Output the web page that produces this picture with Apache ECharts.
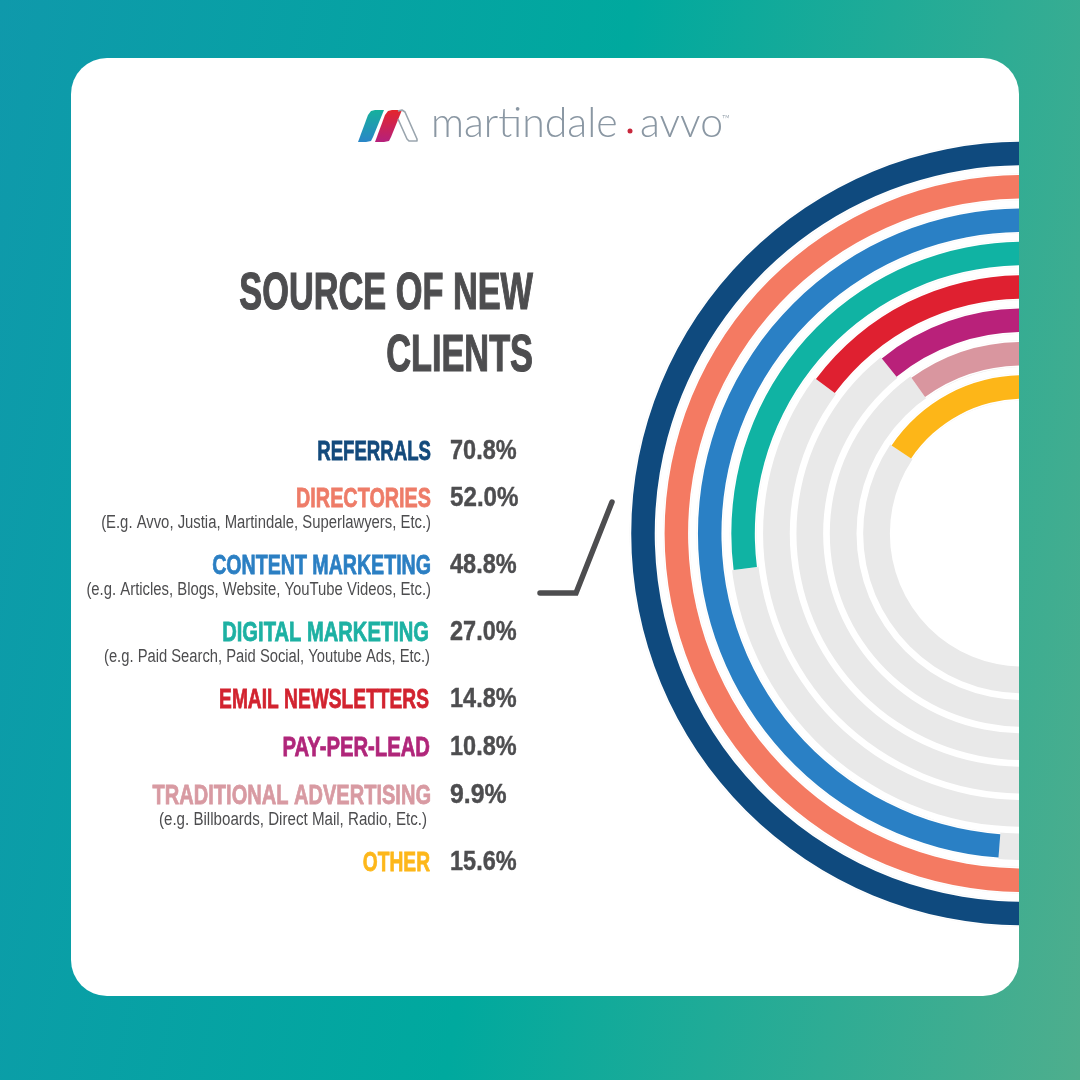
<!DOCTYPE html>
<html lang="en">
<head>
<meta charset="UTF-8">
<title>Source of new clients</title>
<script src="https://cdn.jsdelivr.net/npm/echarts@6/dist/echarts.min.js"></script>
<style>
  html, body { margin: 0; padding: 0; }
  body {
    width: 1080px; height: 1080px; overflow: hidden; position: relative;
    background: linear-gradient(100deg, #0f99ab 0%, #00a99e 50%, #4eae8d 100%);
  }
  #chart {
    position: absolute; left: 71px; top: 58px; width: 948px; height: 938px;
    border-radius: 36px; overflow: hidden; background: #fff;
  }
</style>
</head>
<body>
<div id="chart"></div>
<script>
var categories = ['REFERRALS', 'DIRECTORIES', 'CONTENT MARKETING', 'DIGITAL MARKETING', 'EMAIL NEWSLETTERS', 'PAY-PER-LEAD', 'TRADITIONAL ADVERTISING', 'OTHER'];
var notes = ['', '(E.g. Avvo, Justia, Martindale, Superlawyers, Etc.)', '(e.g. Articles, Blogs, Website, YouTube Videos, Etc.)', '(e.g. Paid Search, Paid Social, Youtube Ads, Etc.)', '', '', '(e.g. Billboards, Direct Mail, Radio, Etc.)', ''];
var values = [70.8, 52.0, 48.8, 27.0, 14.8, 10.8, 9.9, 15.6];
var titleLines = ['SOURCE OF NEW', 'CLIENTS'];

var barColors = ['#0f4a7e', '#f47a62', '#2a80c5', '#10b3a3', '#df2030', '#b9217a', '#d9969f', '#fdb618'];
var textColors = ['#134a7c', '#ee7c68', '#2b7fc3', '#1db1a3', '#d2232f', '#b0267a', '#d89aa2', '#fdb71a'];
var rowY = [450, 497, 564, 631, 698, 746, 794, 861];
var rowRight = [431, 431, 431, 429, 429, 430, 431, 430];
var noteRight = [0, 431, 431, 430, 0, 0, 427, 0];
var labelScale = [0.665, 0.707, 0.70, 0.72, 0.685, 0.724, 0.716, 0.685];
var noteScale = [0, 0.825, 0.826, 0.82, 0, 0, 0.84, 0];
var valueScale = [0.87, 0.895, 0.87, 0.87, 0.87, 0.87, 0.92, 0.87];

var DARK = '#4d4d4f';
var FONT = '"Liberation Sans", sans-serif';

// no condensed face is installed, so the Oswald look is faked with scaleX and a thin stroke
function text(x, y, str, size, color, align, weight, sx, bold) {
    return {
        type: 'text', x: x, y: y, scaleX: sx, silent: true,
        style: {
            text: str, x: 0, y: 0, fill: color, align: align, verticalAlign: 'middle',
            stroke: bold ? color : null, lineWidth: bold || 0,
            font: weight + ' ' + size + 'px ' + FONT
        }
    };
}

var items = [];
titleLines.forEach(function (line, i) {
    items.push(text(533, i === 0 ? 295 : 357, line, 52, DARK, 'right', 'bold', 0.66, 1.2));
});
categories.forEach(function (name, i) {
    items.push(text(rowRight[i], rowY[i] + 2, name, 28, textColors[i], 'right', 'bold', labelScale[i], 0.8));
    items.push(text(450, rowY[i] + 2, values[i].toFixed(1) + '%', 27, DARK, 'left', 'bold', valueScale[i], 0.4));
    if (notes[i]) {
        items.push(text(noteRight[i], rowY[i] + 26, notes[i], 18, DARK, 'right', 'normal', noteScale[i]));
    }
});

// callout line beside the table
items.push({
    type: 'polyline', silent: true,
    shape: { points: [[612, 502], [576, 593], [540, 593]] },
    style: { stroke: DARK, lineWidth: 5.5, lineCap: 'round', lineJoin: 'miter', fill: null }
});

// logo
items.push({
    type: 'polygon', silent: true,
    shape: { points: [[368, 115], [371, 111], [375, 110], [384, 110], [373, 137], [371, 141], [366, 142], [358, 142]] },
    style: { fill: new echarts.graphic.LinearGradient(0, 0, 0, 1, [{ offset: 0, color: '#16b09c' }, { offset: 1, color: '#2a86c8' }]) }
});
items.push({
    type: 'polygon', silent: true,
    shape: { points: [[385, 115], [388, 111], [392, 110], [402, 110], [391, 137], [389, 141], [384, 142], [375, 142]] },
    style: { fill: new echarts.graphic.LinearGradient(0, 0, 0, 1, [{ offset: 0, color: '#e4262c' }, { offset: 1, color: '#b5207c' }]) }
});
items.push({
    type: 'polyline', silent: true,
    shape: { points: [[398, 111], [402, 110], [405, 112], [417, 139], [417, 141], [409, 141], [407, 139], [398, 119]] },
    style: { stroke: '#9aa5ae', lineWidth: 1.6, lineJoin: 'round', fill: null }
});
var logoFont = '300 41px Lato, "Open Sans", sans-serif';
items.push({ type: 'text', silent: true, style: { text: 'martindale', x: 431, y: 124, align: 'left', verticalAlign: 'middle', fill: '#8a97a3', font: logoFont } });
items.push({ type: 'circle', silent: true, shape: { cx: 630, cy: 131, r: 2.5 }, style: { fill: '#c8283c' } });
items.push({ type: 'text', silent: true, style: { text: 'avvo', x: 640, y: 124, align: 'left', verticalAlign: 'middle', fill: '#8a97a3', font: logoFont } });
items.push({ type: 'text', silent: true, style: { text: '\u2122', x: 722, y: 119, align: 'left', verticalAlign: 'middle', fill: '#8a97a3', font: '300 11px Lato, sans-serif' } });

var CENTER = [952, 475.5];
var RADIUS = [129.8, 396.7];

var chart = echarts.init(document.getElementById('chart'), null, { renderer: 'canvas' });
chart.setOption({
    animation: false,
    // the grey tracks are wider than the coloured bars, so each gets its own polar
    polar: [
        { center: CENTER, radius: RADIUS },
        { center: CENTER, radius: RADIUS }
    ],
    angleAxis: [
        { polarIndex: 0, type: 'value', min: 0, max: 100, startAngle: 90, clockwise: false, show: false },
        { polarIndex: 1, type: 'value', min: 0, max: 100, startAngle: 90, clockwise: false, show: false }
    ],
    radiusAxis: [
        { polarIndex: 0, type: 'category', data: categories, inverse: true, show: false },
        { polarIndex: 1, type: 'category', data: categories, inverse: true, show: false }
    ],
    graphic: [{ type: 'group', x: -71, y: -58, silent: true, children: items }],
    series: [{
        // white over the track, so no grey shows beside the narrower coloured bar
        type: 'bar',
        coordinateSystem: 'polar',
        polarIndex: 0,
        barWidth: 26.7,
        silent: true,
        showBackground: true,
        backgroundStyle: { color: '#e9e9e9' },
        itemStyle: { color: '#fff' },
        data: values
    }, {
        type: 'bar',
        coordinateSystem: 'polar',
        polarIndex: 1,
        barWidth: 23.5,
        silent: true,
        z: 3,
        data: values.map(function (v, i) {
            return { value: v, itemStyle: { color: barColors[i] } };
        })
    }]
});
</script>
</body>
</html>
